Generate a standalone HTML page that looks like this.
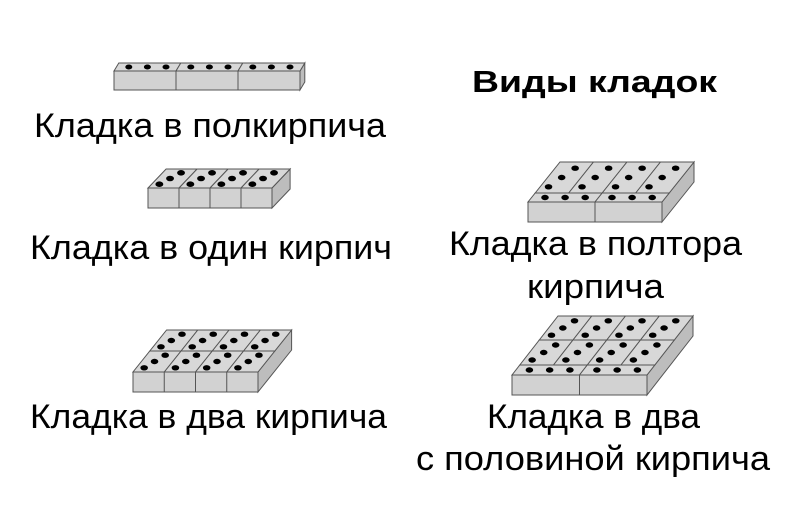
<!DOCTYPE html>
<html><head><meta charset="utf-8"><style>
html,body{margin:0;padding:0;background:#fff;width:800px;height:530px;overflow:hidden}
svg{display:block}
text{font-family:"Liberation Sans",sans-serif;fill:#000}
</style></head><body>
<svg id="s" width="800" height="530" viewBox="0 0 800 530" xmlns="http://www.w3.org/2000/svg">
<text x="34" y="137" font-size="34" textLength="352" lengthAdjust="spacingAndGlyphs">Кладка в полкирпича</text>
<text x="30" y="259" font-size="34" textLength="362" lengthAdjust="spacingAndGlyphs">Кладка в один кирпич</text>
<text x="30" y="428" font-size="34" textLength="357" lengthAdjust="spacingAndGlyphs">Кладка в два кирпича</text>
<text x="449" y="255" font-size="34" textLength="293" lengthAdjust="spacingAndGlyphs">Кладка в полтора</text>
<text x="527" y="298" font-size="34" textLength="137" lengthAdjust="spacingAndGlyphs">кирпича</text>
<text x="487" y="428" font-size="34" textLength="213" lengthAdjust="spacingAndGlyphs">Кладка в два</text>
<text x="416" y="470" font-size="34" textLength="354" lengthAdjust="spacingAndGlyphs">с половиной кирпича</text>
<text x="472" y="92" font-size="31" font-weight="bold" textLength="245" lengthAdjust="spacingAndGlyphs">Виды кладок</text>
</svg>
<script>
var svg=document.getElementById('s'),NS='http://www.w3.org/2000/svg';
function el(t,a){var e=document.createElementNS(NS,t);for(var k in a)e.setAttribute(k,a[k]);svg.appendChild(e);return e;}
function poly(pts,fill){el('polygon',{points:pts.map(function(p){return p[0].toFixed(1)+','+p[1].toFixed(1)}).join(' '),fill:fill,stroke:'#555','stroke-width':1});}
function dot(x,y,r){el('ellipse',{cx:x,cy:y,rx:r*1.4,ry:r,fill:'#000'});}
function block(x,yf,W,H,s,rows,frontN,r){
  var D=0;rows.forEach(function(q){D+=q.d});
  poly([[x+W,yf],[x+W+D*s,yf-D],[x+W+D*s,yf-D+H],[x+W,yf+H]],'#bdbdbd');
  poly([[x,yf],[x+W,yf],[x+W,yf+H],[x,yf+H]],'#d2d2d2');
  for(var i=1;i<frontN;i++){var xx=x+W*i/frontN;el('line',{x1:xx,y1:yf,x2:xx,y2:yf+H,stroke:'#555','stroke-width':1});}
  var d0=0;
  rows.forEach(function(q){
    var cw=W/q.n;
    for(var i=0;i<q.n;i++){
      var P=function(u,v){var dd=d0+v*q.d;return [x+i*cw+u*cw+dd*s,yf-dd];};
      poly([P(0,0),P(1,0),P(1,1),P(0,1)],'#d8d8d8');
      if(q.t=='s'){[0.2,0.5,0.8].forEach(function(u){var p=P(u,0.5);dot(p[0],p[1],r);});}
      else{[[0.25,0.2],[0.42,0.5],[0.6,0.8]].forEach(function(a){var p=P(a[0],a[1]);dot(p[0],p[1],r);});}
    }
    d0+=q.d;
  });
}
block(114,71,186,19,0.6,[{d:8,n:3,t:'s'}],3,2.5);
block(148,188,124,20,0.95,[{d:19,n:4,t:'h'}],4,2.8);
block(528,202,134,20,0.8,[{d:9,n:2,t:'s'},{d:31,n:4,t:'h'}],2,2.7);
block(133,372,125,20,0.8,[{d:21,n:4,t:'h'},{d:21,n:4,t:'h'}],4,2.7);
block(512,375,135,20,0.78,[{d:10,n:2,t:'s'},{d:25,n:4,t:'h'},{d:24,n:4,t:'h'}],2,2.7);
</script>
</body></html>
